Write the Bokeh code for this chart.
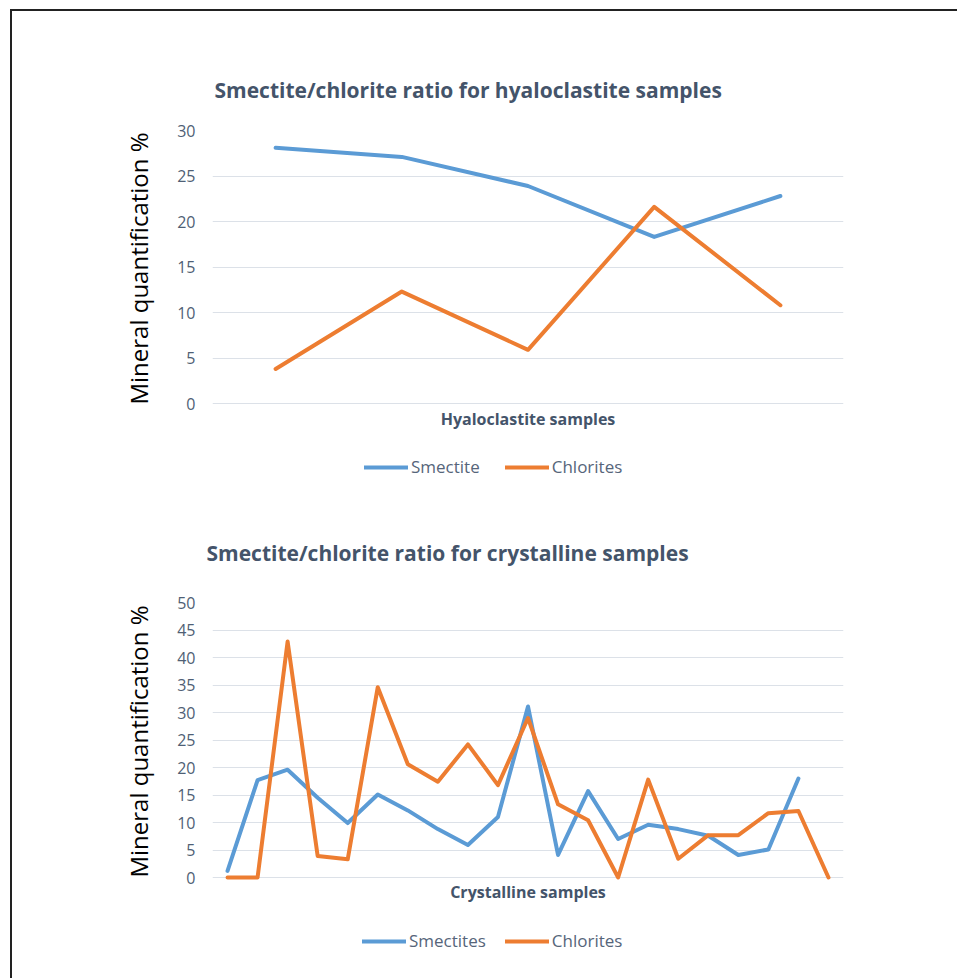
from bokeh.plotting import figure
from bokeh.models import Legend, LegendItem, Title, Range1d, FactorRange, FixedTicker
from bokeh.layouts import column
from bokeh.embed import file_html
from bokeh.resources import INLINE

# ---------------- data ----------------
hyalo_samples = ["H1", "H2", "H3", "H4", "H5"]
hyalo_smectite = [28.1, 27.1, 23.9, 18.3, 22.8]
hyalo_chlorites = [3.8, 12.3, 5.9, 21.6, 10.8]
hyalo_ticks = [0, 5, 10, 15, 20, 25, 30]

cryst_samples = ["C%d" % i for i in range(1, 22)]
cryst_smectites = [1.2, 17.7, 19.6, 14.5, 9.9, 15.1, 12.2, 8.8, 5.9, 11.0,
                   31.1, 4.1, 15.7, 7.0, 9.6, 8.8, 7.6, 4.1, 5.1, 18.0]
cryst_chlorites = [0, 0, 42.9, 3.9, 3.3, 34.6, 20.6, 17.4, 24.2, 16.8,
                   29.0, 13.3, 10.4, 0, 17.8, 3.4, 7.7, 7.7, 11.7, 12.1, 0]
cryst_ticks = [0, 5, 10, 15, 20, 25, 30, 35, 40, 45, 50]

BLUE = "#5B9BD5"
ORANGE = "#ED7D31"
TITLE_C = "#44546A"
TICK_C = "#4F5F75"
GRID_C = "#DCE1E8"
W = 945
PAD_PX = 3  # room below the zero line so that lines at 0 are not clipped


def make_chart(cats, s1, s2, title, xlabel, ymax, ticks, height,
               bl, bt, bb, title_offset, title_standoff, xlabel_standoff):
    frame_h = height - bt - bb
    pad = ymax * PAD_PX / frame_h
    p = figure(width=W, height=height, x_range=FactorRange(*cats),
               y_range=Range1d(-pad, ymax), output_backend="svg",
               toolbar_location=None, min_border_left=bl, min_border_right=114,
               min_border_top=bt, min_border_bottom=bb - PAD_PX)
    p.title = Title(text=title, text_font="Open Sans", text_font_size="21px",
                    text_font_style="bold", text_color=TITLE_C, align="left",
                    offset=title_offset, standoff=title_standoff)
    p.outline_line_color = None
    p.xgrid.grid_line_color = None
    p.ygrid.grid_line_color = GRID_C
    p.ygrid.grid_line_width = 1
    p.yaxis.ticker = FixedTicker(ticks=ticks)
    p.yaxis.axis_line_color = None
    p.yaxis.major_tick_line_color = None
    p.yaxis.minor_tick_line_color = None
    p.yaxis.major_label_text_font = "Open Sans"
    p.yaxis.major_label_text_font_size = "16px"
    p.yaxis.major_label_text_color = TICK_C
    p.yaxis.major_label_standoff = 11
    p.yaxis.axis_label = "Mineral quantification %"
    p.yaxis.axis_label_text_font = "Open Sans"
    p.yaxis.axis_label_text_font_size = "24px"
    p.yaxis.axis_label_text_font_style = "normal"
    p.yaxis.axis_label_text_color = "#000000"
    p.yaxis.axis_label_standoff = 19

    p.xaxis.axis_line_color = None
    p.xaxis.major_tick_line_color = None
    p.xaxis.major_label_text_color = None
    p.xaxis.major_label_text_font_size = "1px"
    p.xaxis.major_label_standoff = 0
    p.xaxis.major_tick_out = 0
    p.xaxis.axis_label = xlabel
    p.xaxis.axis_label_text_font = "Open Sans"
    p.xaxis.axis_label_text_font_size = "16px"
    p.xaxis.axis_label_text_font_style = "bold"
    p.xaxis.axis_label_text_color = TITLE_C
    p.xaxis.axis_label_standoff = xlabel_standoff

    p.line(cats[:len(s1)], s1, line_color=BLUE, line_width=4,
           line_join="round", line_cap="round")
    p.line(cats[:len(s2)], s2, line_color=ORANGE, line_width=4,
           line_join="round", line_cap="round")
    return p


def make_legend(cats, s1, s2, name1, height, loc, spacing):
    # legend strip: the series are drawn out of view, only the legend shows
    q = figure(width=W, height=height, output_backend="svg",
               toolbar_location=None, x_axis_type=None, y_axis_type=None,
               x_range=FactorRange(*cats), y_range=Range1d(-2, -1),
               min_border=0)
    q.outline_line_color = None
    q.xgrid.grid_line_color = None
    q.ygrid.grid_line_color = None
    r1 = q.line(cats[:len(s1)], s1, line_color=BLUE, line_width=4,
                line_cap="round")
    r2 = q.line(cats[:len(s2)], s2, line_color=ORANGE, line_width=4,
                line_cap="round")
    legend = Legend(items=[LegendItem(label=name1, renderers=[r1]),
                           LegendItem(label="Chlorites", renderers=[r2])],
                    orientation="horizontal", location=loc,
                    border_line_color=None, background_fill_alpha=0,
                    padding=0, margin=0, spacing=spacing,
                    glyph_width=44, glyph_height=16, label_standoff=3,
                    label_text_font="Open Sans", label_text_font_size="17px",
                    label_text_color="#56657A")
    q.add_layout(legend, "center")
    return q


p1 = make_chart(hyalo_samples, hyalo_smectite, hyalo_chlorites,
                "Smectite/chlorite ratio for hyaloclastite samples",
                "Hyaloclastite samples", 30, hyalo_ticks,
                429, 196, 119, 37, 2, 53, 1)
l1 = make_legend(hyalo_samples, hyalo_smectite, hyalo_chlorites,
                 "Smectite", 60, (152, 22), 25)
p2 = make_chart(cryst_samples, cryst_smectites, cryst_chlorites,
                "Smectite/chlorite ratio for crystalline samples",
                "Crystalline samples", 50, cryst_ticks,
                405, 200, 102, 28, -6, 72, 0)
l2 = make_legend(cryst_samples, cryst_smectites, cryst_chlorites,
                 "Smectites", 73, (150, 26), 19)

layout = column(p1, l1, p2, l2, spacing=0, margin=(9, 0, 0, 10),
                styles={"border-left": "2px solid #222222",
                        "border-top": "2px solid #222222"})

open("out.html", "w").write(file_html(layout, INLINE))
